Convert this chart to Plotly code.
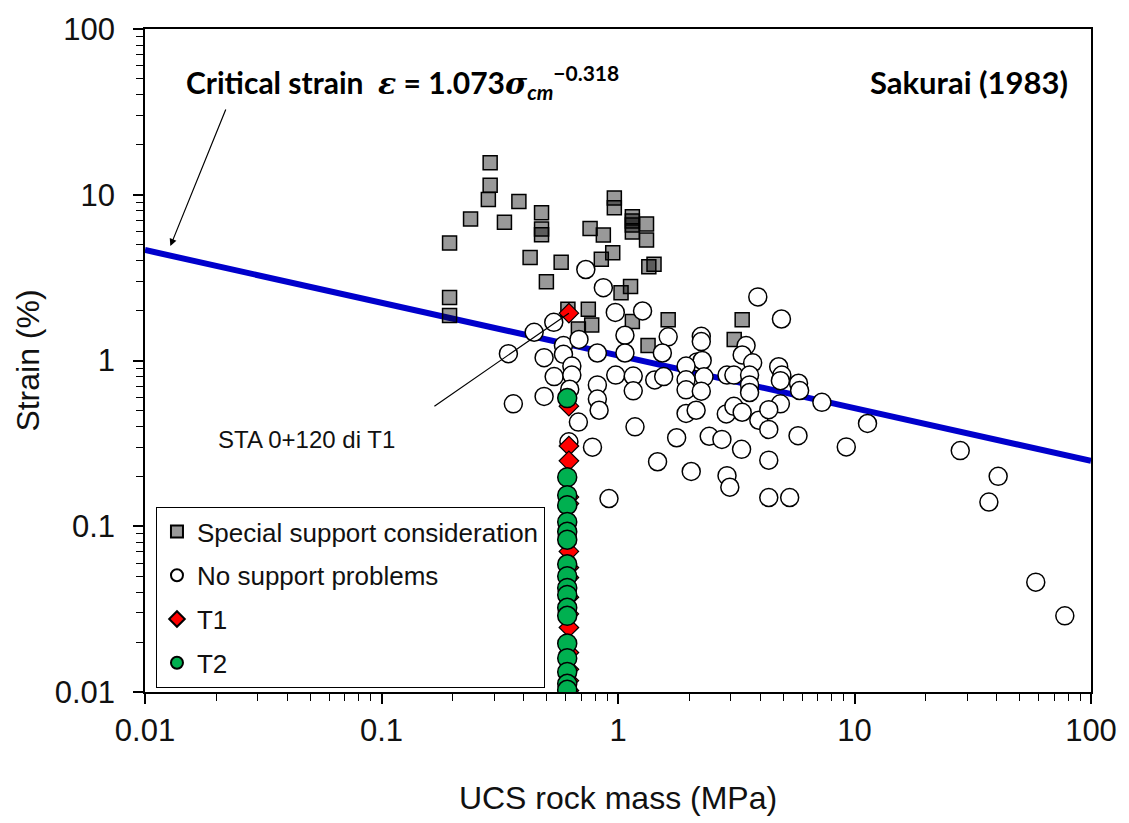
import math
import plotly.graph_objects as go

# Special support consideration (UCS rock mass MPa, strain %)
special_x = [0.288, 0.288, 0.283, 0.381, 0.238, 0.331, 0.194, 0.475, 0.475, 0.475,
             0.425, 0.575, 0.498, 0.194, 0.194, 0.965, 0.965, 1.15, 1.15, 1.15,
             1.15, 1.32, 1.32, 0.762, 0.867, 0.95, 0.85, 1.42, 1.35, 1.13,
             1.03, 0.614, 0.749, 0.68, 0.774, 1.15, 1.63, 1.34, 3.35, 3.10]
special_y = [15.6, 11.4, 9.36, 9.11, 7.14, 6.82, 5.11, 7.79, 6.22, 5.73,
             4.18, 3.91, 2.99, 2.40, 1.87, 9.57, 8.34, 7.37, 6.95, 6.58,
             5.95, 6.67, 5.33, 6.25, 5.72, 4.46, 4.08, 3.81, 3.68, 2.80,
             2.56, 2.04, 2.04, 1.55, 1.64, 1.72, 1.76, 1.23, 1.76, 1.34]

# No support problems
nosup_x = [0.731, 0.867, 0.974, 1.27, 0.535, 0.442, 1.07, 1.63, 0.344, 0.487,
           0.588, 0.588, 0.684, 0.818, 1.07, 1.54, 2.25, 2.25, 2.16, 2.27,
           1.94, 0.638, 0.537, 0.638, 0.978, 1.16, 1.43, 1.56, 1.94, 2.31,
           2.89, 0.818, 0.625, 1.16, 1.94, 2.25, 0.487, 0.361, 0.818, 0.832,
           1.94, 2.14, 2.87, 0.68, 1.18, 1.77, 2.43, 2.75, 0.62, 0.78,
           1.47, 2.04, 2.89, 2.97, 0.916, 3.90, 4.91, 3.48, 3.35, 3.71,
           4.78, 4.93, 4.86, 3.09, 3.60, 5.80, 5.86, 3.60, 3.60, 7.28,
           4.86, 3.09, 3.35, 3.94, 4.34, 4.34, 11.35, 3.33, 5.77, 9.23,
           28.0, 4.34, 4.34, 5.32, 40.5, 37.0, 58.4, 77.5]
nosup_y = [3.54, 2.75, 1.95, 1.99, 1.70, 1.48, 1.42, 1.39, 1.10, 1.04,
           1.23, 1.09, 1.34, 1.11, 1.11, 1.11, 1.40, 1.30, 0.98, 1.00,
           0.925, 0.925, 0.80, 0.817, 0.817, 0.806, 0.763, 0.80, 0.765, 0.797,
           0.817, 0.712, 0.671, 0.656, 0.665, 0.653, 0.607, 0.548, 0.585, 0.501,
           0.479, 0.501, 0.476, 0.425, 0.398, 0.342, 0.349, 0.334, 0.323, 0.30,
           0.245, 0.214, 0.202, 0.172, 0.147, 2.42, 1.78, 1.23, 1.08, 0.969,
           0.917, 0.817, 0.756, 0.817, 0.817, 0.729, 0.659, 0.712, 0.641, 0.559,
           0.548, 0.529, 0.487, 0.436, 0.505, 0.384, 0.417, 0.291, 0.352, 0.301,
           0.286, 0.2505, 0.149, 0.149, 0.20, 0.140, 0.046, 0.0288]

# Tunnel T1 and T2 sections (single rock mass strength value)
t1_ucs = 0.62
t1_strain = [1.93, 0.53, 0.305, 0.248, 0.15, 0.137, 0.0705, 0.0564, 0.049, 0.0373,
             0.0296, 0.0245, 0.0173, 0.0137, 0.0117, 0.0102]
t2_ucs = 0.61
t2_strain = [0.593, 0.1975, 0.154, 0.134, 0.106, 0.0928, 0.083, 0.0589, 0.0499, 0.0424,
             0.0385, 0.0322, 0.0288, 0.0196, 0.016, 0.0132, 0.0112, 0.0103]

# Sakurai (1983) critical strain: eps = A * sigma_cm ^ B
crit_a = 1.073
crit_b = -0.318
crit_x = [0.01, 100]
crit_y = [crit_a * v ** crit_b for v in crit_x]

tick_vals = [0.01, 0.1, 1, 10, 100]
tick_text = ["0.01", "0.1", "1", "10", "100"]
minor_vals = [m * 10 ** e for e in range(-2, 2) for m in range(2, 10)]

AX_FONT = "Liberation Sans, Arial, sans-serif"
BOLD_FONT = "Lato, Open Sans, sans-serif"
MATH = "font-family:'DejaVu Serif', 'Liberation Serif', serif"

fig = go.Figure()

fig.add_trace(go.Scatter(
    x=crit_x, y=crit_y, mode="lines",
    line=dict(color="#0000CC", width=6), showlegend=False, hoverinfo="skip"))

fig.add_trace(go.Scatter(
    x=special_x, y=special_y, mode="markers", name="Special support consideration",
    legendgroup="a",
    marker=dict(symbol="square", size=14, color="rgba(0,0,0,0.4)",
                line=dict(color="black", width=1.5))))

fig.add_trace(go.Scatter(
    x=nosup_x, y=nosup_y, mode="markers", name="No support problems",
    legendgroup="b",
    marker=dict(symbol="circle", size=18, color="white",
                line=dict(color="black", width=1.5))))

fig.add_trace(go.Scatter(
    x=[t1_ucs] * len(t1_strain), y=t1_strain, mode="markers", name="T1",
    legendgroup="c",
    marker=dict(symbol="diamond", size=15, color="#FF0000",
                line=dict(color="black", width=1.2))))

fig.add_trace(go.Scatter(
    x=[t2_ucs] * len(t2_strain), y=t2_strain, mode="markers", name="T2",
    legendgroup="d",
    marker=dict(symbol="circle", size=19, color="#00B050",
                line=dict(color="black", width=1.5))))

axis_common = dict(
    type="log", range=[-2, 2], tickvals=tick_vals, ticktext=tick_text,
    ticks="outside", ticklen=10, tickwidth=1.5, tickcolor="black",
    showline=True, linecolor="black", linewidth=1.5, mirror=True,
    showgrid=False, zeroline=False,
    tickfont=dict(family=AX_FONT, size=31, color="#111111"),
    minor=dict(tickvals=minor_vals, ticks="outside", ticklen=7,
               tickwidth=1.2, tickcolor="black", showgrid=False),
)

fig.update_layout(
    width=1129, height=823, autosize=False,
    margin=dict(l=145, r=36, t=22, b=131),
    plot_bgcolor="white", paper_bgcolor="white",
    xaxis=dict(axis_common,
               title=dict(text="UCS rock mass (MPa)",
                          font=dict(family=AX_FONT, size=32, color="#111111"),
                          standoff=40)),
    yaxis=dict(axis_common, ticklabelstandoff=12,
               title=dict(text="Strain (%)",
                          font=dict(family=AX_FONT, size=32, color="#111111"),
                          standoff=6)),
    legend=dict(x=0.0116, y=0.279, xanchor="left", yanchor="top",
                bgcolor="white", bordercolor="black", borderwidth=1,
                font=dict(family=AX_FONT, size=26, color="#111111"),
                traceorder="grouped", tracegroupgap=7, itemsizing="constant"),
    showlegend=True,
)

fig.add_annotation(
    xref="paper", yref="paper", x=0.041, y=0.92, xanchor="left", yanchor="middle",
    text=("<b>Critical strain  <span style=\"" + MATH + "\"><i>ε</i></span> = 1.073"
          "<span style=\"" + MATH + "\"><i>σ</i></span><i><sub>cm</sub></i>"
          "<sup>−0.318</sup></b>"),
    showarrow=False, font=dict(family=BOLD_FONT, size=30, color="black"))

fig.add_annotation(
    xref="paper", yref="paper", x=0.978, y=0.92, xanchor="right", yanchor="middle",
    text="<b>Sakurai (1983)</b>", showarrow=False,
    font=dict(family=BOLD_FONT, size=31, color="black"))

# arrow pointing at the critical strain line
fig.add_annotation(
    x=math.log10(0.0128), y=math.log10(4.9), xref="x", yref="y",
    text="", showarrow=True, arrowhead=2, arrowsize=1.2, arrowwidth=1.2,
    arrowcolor="black", ax=56, ay=-138)

# leader line to the labelled T1 section
fig.add_annotation(
    x=math.log10(t1_ucs), y=math.log10(t1_strain[0]), xref="x", yref="y",
    text="", showarrow=True, arrowhead=0, arrowwidth=1.2,
    arrowcolor="black", ax=-136, ay=94)

fig.add_annotation(
    xref="paper", yref="paper", x=0.171, y=0.381, xanchor="center", yanchor="middle",
    text="STA 0+120 di T1", showarrow=False,
    font=dict(family=AX_FONT, size=24, color="#111111"))

fig.write_html("out.html")
